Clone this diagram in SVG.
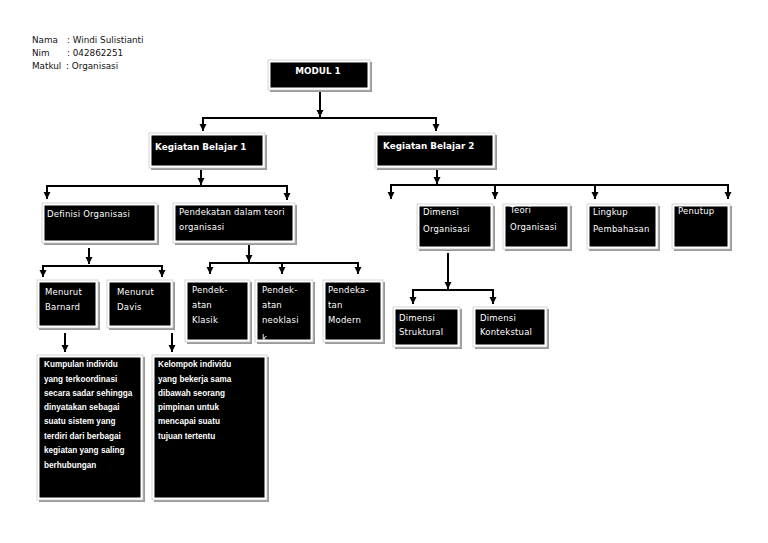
<svg xmlns="http://www.w3.org/2000/svg" width="768" height="543" viewBox="0 0 768 543">
<defs>
<marker id="ah" markerUnits="userSpaceOnUse" markerWidth="8" markerHeight="8" refX="7" refY="4" orient="auto">
<path d="M0,0.5 L7,4 L0,7.5 Z" fill="#000"/>
</marker>
<clipPath id="c2"><rect x="257.5" y="282.5" width="53" height="57"/></clipPath>
</defs>
<style>
.sh{fill:#9a9a9a}
.fr{fill:#fff;stroke:#c4c4c4;stroke-width:0.7}
.in{fill:#000}
.lb{font-family:"DejaVu Sans","Liberation Sans",sans-serif;font-size:8.5px;letter-spacing:0.2px;fill:#fff}
.hd{font-family:"DejaVu Sans","Liberation Sans",sans-serif;font-size:8.8px;font-weight:bold;fill:#fff}
.bt{font-family:"Liberation Sans","DejaVu Sans",sans-serif;font-size:8.2px;font-weight:bold;fill:#fff}
.info{font-family:"DejaVu Sans","Liberation Sans",sans-serif;font-size:8.8px;fill:#111}
.cn{fill:none;stroke:#000;stroke-width:2}
.ar{fill:none;stroke:#000;stroke-width:2;marker-end:url(#ah)}
</style>
<rect width="768" height="543" fill="#fff"/>

<g id="info">
<text class="info" x="32" y="43">Nama</text><text class="info" x="67" y="43">: Windi Sulistianti</text>
<text class="info" x="32" y="56">Nim</text><text class="info" x="67" y="56">: 042862251</text>
<text class="info" x="32" y="69">Matkul</text><text class="info" x="66" y="69">: Organisasi</text>
</g>

<g id="connectors">
<line class="ar" x1="320" y1="90" x2="320" y2="117"/>
<polyline class="cn" points="203,118 436,118"/>
<line class="ar" x1="203" y1="117" x2="203" y2="131"/>
<line class="ar" x1="436" y1="117" x2="436" y2="131"/>

<line class="ar" x1="201" y1="170" x2="201" y2="185"/>
<polyline class="cn" points="47,186 287,186"/>
<line class="ar" x1="47" y1="185" x2="47" y2="199"/>
<line class="ar" x1="287" y1="185" x2="287" y2="200"/>

<line class="ar" x1="437" y1="168" x2="437" y2="184"/>
<polyline class="cn" points="391,185 728,185"/>
<line class="ar" x1="391" y1="184" x2="391" y2="199"/>
<line class="ar" x1="495" y1="184" x2="495" y2="199"/>
<line class="ar" x1="595" y1="184" x2="595" y2="199"/>
<line class="ar" x1="728" y1="184" x2="728" y2="199"/>

<line class="ar" x1="89" y1="248" x2="89" y2="264"/>
<polyline class="cn" points="43,266 162,266"/>
<line class="ar" x1="43" y1="265" x2="43" y2="277"/>
<line class="ar" x1="162" y1="265" x2="162" y2="277"/>

<line class="ar" x1="249" y1="245" x2="249" y2="262"/>
<polyline class="cn" points="210,263 358,263"/>
<line class="ar" x1="210" y1="262" x2="210" y2="274"/>
<line class="ar" x1="282" y1="262" x2="282" y2="274"/>
<line class="ar" x1="358" y1="262" x2="358" y2="274"/>

<line class="ar" x1="65" y1="333" x2="65" y2="352"/>
<line class="ar" x1="172" y1="333" x2="172" y2="352"/>

<line class="ar" x1="448" y1="253" x2="448" y2="289"/>
<polyline class="cn" points="413,290 493,290"/>
<line class="ar" x1="413" y1="289" x2="413" y2="304"/>
<line class="ar" x1="493" y1="289" x2="493" y2="304"/>
</g>

<g id="modul1">
<rect class="sh" x="270" y="62" width="102" height="30"/><rect class="fr" x="268" y="60" width="102" height="30"/><rect class="in" x="270.5" y="62.5" width="97" height="25"/>
<text class="hd" x="318" y="74" text-anchor="middle">MODUL 1</text>
</g>
<g id="kb1">
<rect class="sh" x="151" y="135" width="116" height="35"/><rect class="fr" x="149" y="133" width="116" height="35"/><rect class="in" x="151.5" y="135.5" width="111" height="30"/>
<text class="hd" x="155" y="150">Kegiatan Belajar 1</text>
</g>
<g id="kb2">
<rect class="sh" x="377" y="135" width="120" height="35"/><rect class="fr" x="375" y="133" width="120" height="35"/><rect class="in" x="377.5" y="135.5" width="115" height="30"/>
<text class="hd" x="383" y="149">Kegiatan Belajar 2</text>
</g>
<g id="definisi">
<rect class="sh" x="44" y="205" width="115" height="40"/><rect class="fr" x="42" y="203" width="115" height="40"/><rect class="in" x="44.5" y="205.5" width="110" height="35"/>
<text class="lb" x="47" y="217">Definisi Organisasi</text>
</g>
<g id="pendekatan">
<rect class="sh" x="175" y="205" width="122" height="40"/><rect class="fr" x="173" y="203" width="122" height="40"/><rect class="in" x="175.5" y="205.5" width="117" height="35"/>
<text class="lb" x="179" y="215">Pendekatan dalam teori</text>
<text class="lb" x="179" y="230">organisasi</text>
</g>
<g id="dimensi-org">
<rect class="sh" x="419" y="206" width="76" height="45"/><rect class="fr" x="417" y="204" width="76" height="45"/><rect class="in" x="419.5" y="206.5" width="71" height="40"/>
<text class="lb" x="423" y="215">Dimensi</text>
<text class="lb" x="423" y="232">Organisasi</text>
</g>
<g id="teori">
<rect class="sh" x="505" y="206" width="67" height="45"/><rect class="fr" x="503" y="204" width="67" height="45"/><rect class="in" x="505.5" y="206.5" width="62" height="40"/>
<text class="lb" x="510" y="213">Teori</text>
<text class="lb" x="510" y="230">Organisasi</text>
</g>
<g id="lingkup">
<rect class="sh" x="589" y="206" width="71" height="45"/><rect class="fr" x="587" y="204" width="71" height="45"/><rect class="in" x="589.5" y="206.5" width="66" height="40"/>
<text class="lb" x="593" y="215">Lingkup</text>
<text class="lb" x="593" y="232">Pembahasan</text>
</g>
<g id="penutup">
<rect class="sh" x="674" y="206" width="58" height="45"/><rect class="fr" x="672" y="204" width="58" height="45"/><rect class="in" x="674.5" y="206.5" width="53" height="40"/>
<text class="lb" x="678" y="214">Penutup</text>
</g>
<g id="barnard">
<rect class="sh" x="39" y="282" width="61" height="48"/><rect class="fr" x="37" y="280" width="61" height="48"/><rect class="in" x="39.5" y="282.5" width="56" height="43"/>
<text class="lb" x="45" y="295">Menurut</text>
<text class="lb" x="45" y="310">Barnard</text>
</g>
<g id="davis">
<rect class="sh" x="109" y="282" width="66" height="48"/><rect class="fr" x="107" y="280" width="66" height="48"/><rect class="in" x="109.5" y="282.5" width="61" height="43"/>
<text class="lb" x="117" y="295">Menurut</text>
<text class="lb" x="117" y="310">Davis</text>
</g>
<g id="klasik">
<rect class="sh" x="187" y="282" width="65" height="62"/><rect class="fr" x="185" y="280" width="65" height="62"/><rect class="in" x="187.5" y="282.5" width="60" height="57"/>
<text class="lb" x="192" y="293">Pendek-</text>
<text class="lb" x="192" y="308">atan</text>
<text class="lb" x="192" y="323">Klasik</text>
</g>
<g id="neoklasik">
<rect class="sh" x="257" y="282" width="58" height="62"/><rect class="fr" x="255" y="280" width="58" height="62"/><rect class="in" x="257.5" y="282.5" width="53" height="57"/>
<text class="lb" x="262" y="293">Pendek-</text>
<text class="lb" x="262" y="308">atan</text>
<text class="lb" x="262" y="323">neoklasi</text>
<text class="lb" x="262" y="341" clip-path="url(#c2)">k</text>
</g>
<g id="modern">
<rect class="sh" x="325" y="282" width="60" height="62"/><rect class="fr" x="323" y="280" width="60" height="62"/><rect class="in" x="325.5" y="282.5" width="55" height="57"/>
<text class="lb" x="328" y="293">Pendeka-</text>
<text class="lb" x="328" y="308">tan</text>
<text class="lb" x="328" y="323">Modern</text>
</g>
<g id="struktural">
<rect class="sh" x="395" y="309" width="67" height="40"/><rect class="fr" x="393" y="307" width="67" height="40"/><rect class="in" x="395.5" y="309.5" width="62" height="35"/>
<text class="lb" x="399" y="321">Dimensi</text>
<text class="lb" x="399" y="335">Struktural</text>
</g>
<g id="kontekstual">
<rect class="sh" x="475" y="309" width="74" height="40"/><rect class="fr" x="473" y="307" width="74" height="40"/><rect class="in" x="475.5" y="309.5" width="69" height="35"/>
<text class="lb" x="480" y="321">Dimensi</text>
<text class="lb" x="480" y="335">Kontekstual</text>
</g>
<g id="def-barnard">
<rect class="sh" x="39" y="357" width="106" height="145"/><rect class="fr" x="37" y="355" width="106" height="145"/><rect class="in" x="39.5" y="357.5" width="101" height="140"/>
<text class="bt" x="44" y="367">Kumpulan individu</text>
<text class="bt" x="44" y="381.5">yang terkoordinasi</text>
<text class="bt" x="44" y="395.5">secara sadar sehingga</text>
<text class="bt" x="44" y="410">dinyatakan sebagai</text>
<text class="bt" x="44" y="424">suatu sistem yang</text>
<text class="bt" x="44" y="438.5">terdiri dari berbagai</text>
<text class="bt" x="44" y="453">kegiatan yang saling</text>
<text class="bt" x="44" y="467.5">berhubungan</text>
</g>
<g id="def-davis">
<rect class="sh" x="154" y="357" width="115" height="145"/><rect class="fr" x="152" y="355" width="115" height="145"/><rect class="in" x="154.5" y="357.5" width="110" height="140"/>
<text class="bt" x="158" y="367">Kelompok individu</text>
<text class="bt" x="158" y="381.5">yang bekerja sama</text>
<text class="bt" x="158" y="395.5">dibawah seorang</text>
<text class="bt" x="158" y="410">pimpinan untuk</text>
<text class="bt" x="158" y="424">mencapai suatu</text>
<text class="bt" x="158" y="438.5">tujuan tertentu</text>
</g>
</svg>
